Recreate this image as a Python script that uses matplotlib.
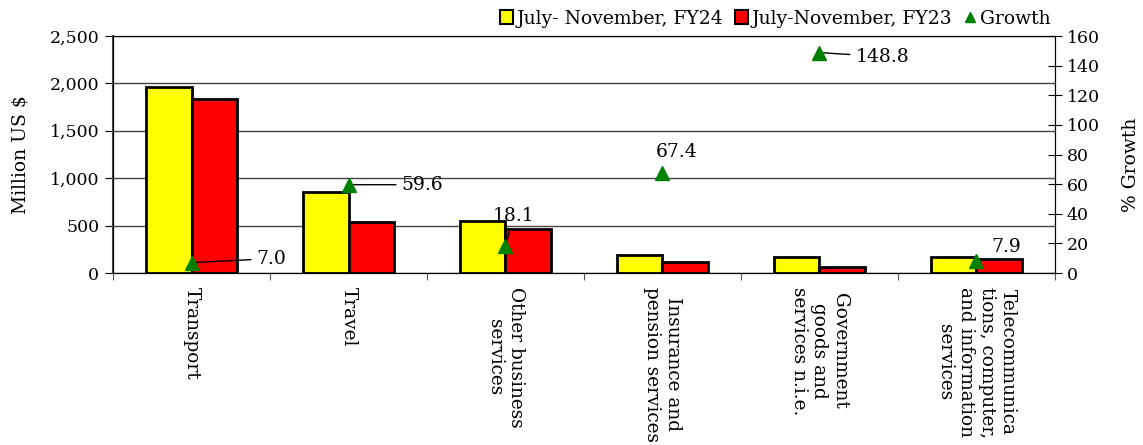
import numpy as np
import matplotlib.pyplot as plt
from matplotlib.patches import Patch
from matplotlib.lines import Line2D
from matplotlib.ticker import FuncFormatter

plt.rcParams['font.family'] = ['DejaVu Serif']

# Dados
categorias = ['Transport', 'Travel', 'Other business\nservices',
              'Insurance and\npension services',
              'Government\ngoods and\nservices n.i.e.',
              'Telecommunica\ntions, computer,\nand information\nservices']
fy24 = [1960, 857, 551, 190, 164, 164]
fy23 = [1832, 537, 467, 113, 66, 152]
crescimento = [7.0, 59.6, 18.1, 67.4, 148.8, 7.9]
rotulos_cresc = ['7.0', '59.6', '18.1', '67.4', '148.8', '7.9']

# deslocamento dos rotulos (pixels), alinhamento e se tem linha de ligacao
desloc = [(65, 4), (53, 0), (8, 30), (-7, 21), (36, -4), (15, 14)]
alinh = ['left', 'left', 'center', 'left', 'left', 'left']
com_linha = [True, True, True, False, True, False]

fig = plt.figure(figsize=(11.43, 4.45), dpi=100)
ax = fig.add_axes([0.0989, 0.3865, 0.824, 0.5326])
x = np.arange(len(categorias))
w = 0.29
fs = 12.5

ax.bar(x - w/2, fy24, w, color='yellow', edgecolor='black', linewidth=2, zorder=3)
ax.bar(x + w/2, fy23, w, color='red', edgecolor='black', linewidth=2, zorder=3)

ax.set_xlim(-0.5, len(categorias) - 0.5)
ax.set_ylim(0, 2500)
ax.set_yticks(np.arange(0, 2501, 500))
ax.yaxis.set_major_formatter(FuncFormatter(lambda v, p: f'{v:,.0f}'))
ax.yaxis.grid(True, color='#444444', linewidth=1, zorder=0)
ax.set_axisbelow(True)

ax.set_xticks(np.arange(-0.5, len(categorias)), labels=[])
ax.set_xticks(x, labels=categorias, minor=True)
ax.tick_params(axis='x', which='major', length=5, direction='out', color='#555555')
ax.tick_params(axis='x', which='minor', length=0, pad=10, labelsize=13.3)
for lbl in ax.get_xticklabels(minor=True):
    lbl.set_rotation(270)
    lbl.set_va('top')
    lbl.set_ha('center')
    lbl.set_multialignment('center')
ax.tick_params(axis='y', length=6, direction='out', labelsize=fs, pad=4)
ax.set_ylabel('Million US $', fontsize=13.5, labelpad=14)
ax.spines['left'].set_color('#444444')
ax.spines['left'].set_linewidth(1.5)

ax2 = ax.twinx()
ax2.set_ylim(0, 160)
ax2.set_yticks(np.arange(0, 161, 20))
ax2.tick_params(axis='y', length=10, direction='inout', labelsize=fs)
ax2.set_ylabel('% Growth', fontsize=13.5)
ax2.yaxis.set_label_coords(1.071, 0.455)
ax2.plot(x, crescimento, linestyle='none', marker='^', color='green',
         markersize=10, zorder=5)
for xi, g, txt, d, ha, linha in zip(x, crescimento, rotulos_cresc, desloc, alinh, com_linha):
    props = dict(arrowstyle='-', color='black', lw=1, shrinkA=2, shrinkB=3) if linha else None
    ax2.annotate(txt, (xi, g), xytext=d, textcoords='offset pixels',
                 ha=ha, va='center', fontsize=13.5, arrowprops=props)

handles = [Patch(facecolor='yellow', edgecolor='black', linewidth=1.5),
           Patch(facecolor='red', edgecolor='black', linewidth=1.5),
           Line2D([], [], linestyle='none', marker='^', color='green', markersize=7)]
ax.legend(handles, ['July- November, FY24', 'July-November, FY23', 'Growth'],
          loc='lower right', bbox_to_anchor=(1.0, 1.02), ncol=3, frameon=False,
          fontsize=13.5, handlelength=0.7, handleheight=0.7, handletextpad=0.2,
          columnspacing=0.6, borderaxespad=0.1, borderpad=0.1)

plt.savefig('out.png', dpi=100)
